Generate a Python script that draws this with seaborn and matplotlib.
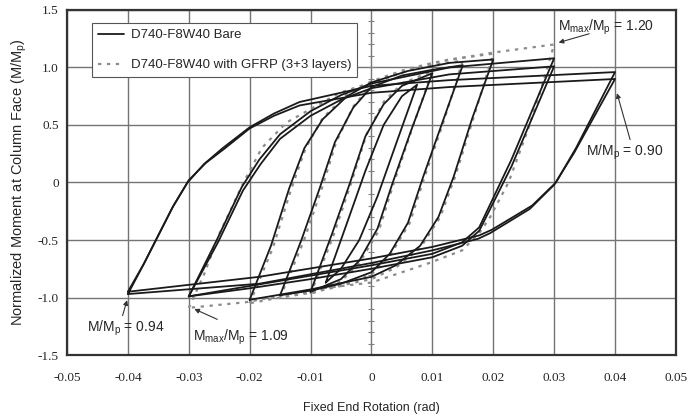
import matplotlib
matplotlib.use("Agg")
import matplotlib.pyplot as plt
import seaborn as sns
import pandas as pd
import numpy as np
from matplotlib.lines import Line2D

# Bare specimen loops: start at the negative peak, up to the positive peak, back down
bare_0075_x = [-0.0075, -0.004, -0.001, 0.002, 0.005, 0.0075, 0.004, 0.001, -0.002, -0.005, -0.0075]
bare_0075_y = [-0.87, -0.35, 0.10, 0.50, 0.75, 0.85, 0.33, -0.12, -0.50, -0.75, -0.87]

bare_010_x = [-0.01, -0.0065, -0.0035, -0.001, 0.002, 0.005, 0.01, 0.0065, 0.0035, 0.001, -0.002, -0.005, -0.01]
bare_010_y = [-0.95, -0.45, 0.0, 0.40, 0.68, 0.84, 0.95, 0.45, 0.0, -0.40, -0.68, -0.84, -0.95]

bare_015_x = [-0.015, -0.0115, -0.0085, -0.006, -0.003, 0.0, 0.005, 0.01, 0.015,
              0.0115, 0.0085, 0.006, 0.003, 0.0, -0.005, -0.01, -0.015]
bare_015_y = [-0.98, -0.50, -0.05, 0.35, 0.65, 0.83, 0.93, 0.98, 1.02,
              0.50, 0.05, -0.35, -0.62, -0.78, -0.88, -0.94, -0.98]

bare_020_x = [-0.02, -0.0165, -0.0135, -0.011, -0.008, -0.004, 0.0, 0.006, 0.0128, 0.02,
              0.0165, 0.0135, 0.011, 0.008, 0.004, 0.0, -0.01, -0.02]
bare_020_y = [-1.02, -0.55, -0.05, 0.30, 0.55, 0.75, 0.87, 0.97, 1.04, 1.07,
              0.55, 0.05, -0.30, -0.55, -0.72, -0.82, -0.93, -1.02]

bare_030a_x = [-0.03, -0.0254, -0.0213, -0.0184, -0.015, -0.010, -0.005, 0.0, 0.0128, 0.03,
               0.023, 0.0177, 0.0149, 0.01, 0.0, -0.01, -0.02, -0.03]
bare_030a_y = [-0.99, -0.50, -0.04, 0.20, 0.42, 0.62, 0.76, 0.86, 1.00, 1.08,
               0.20, -0.39, -0.52, -0.62, -0.72, -0.81, -0.90, -0.99]
bare_030b_x = [-0.03, -0.0252, -0.0211, -0.0182, -0.015, -0.010, -0.005, 0.0, 0.0128, 0.03,
               0.023, 0.0177, 0.0149, 0.01, 0.0, -0.01, -0.02, -0.03]
bare_030b_y = [-0.99, -0.52, -0.07, 0.16, 0.38, 0.58, 0.72, 0.82, 0.94, 1.01,
               0.14, -0.42, -0.55, -0.65, -0.75, -0.84, -0.92, -0.99]

bare_040a_x = [-0.04, -0.0375, -0.0352, -0.0327, -0.0302, -0.0275, -0.0244, -0.020, -0.016, -0.0118,
               0.0, 0.0128, 0.04,
               0.0336, 0.0303, 0.0264, 0.0198, 0.0177, 0.01, 0.0, -0.0184, -0.04]
bare_040a_y = [-0.97, -0.72, -0.48, -0.22, 0.0, 0.16, 0.30, 0.48, 0.60, 0.70,
               0.84, 0.89, 0.96,
               0.30, 0.0, -0.20, -0.41, -0.46, -0.56, -0.66, -0.82, -0.95]
bare_040b_x = [-0.04, -0.0373, -0.0350, -0.0325, -0.0300, -0.0272, -0.0240, -0.020, -0.016, -0.0118,
               0.0, 0.0128, 0.04,
               0.0333, 0.0300, 0.0260, 0.0195, 0.0175, 0.01, 0.0, -0.0184, -0.04]
bare_040b_y = [-0.95, -0.70, -0.46, -0.20, 0.02, 0.17, 0.30, 0.47, 0.58, 0.67,
               0.78, 0.83, 0.90,
               0.26, -0.02, -0.23, -0.44, -0.49, -0.59, -0.70, -0.88, -0.97]

# GFRP-reinforced specimen loops
gfrp_010_x = [-0.01, -0.0063, -0.0033, -0.0008, 0.002, 0.005, 0.01, 0.0067, 0.0037, 0.0012, -0.002, -0.005, -0.01]
gfrp_010_y = [-0.97, -0.47, 0.0, 0.42, 0.70, 0.86, 0.97, 0.47, 0.0, -0.42, -0.70, -0.86, -0.97]

gfrp_015_x = [-0.015, -0.0112, -0.0082, -0.0058, -0.003, 0.0, 0.005, 0.01, 0.015,
              0.0118, 0.0088, 0.0063, 0.003, 0.0, -0.005, -0.01, -0.015]
gfrp_015_y = [-1.00, -0.52, -0.06, 0.35, 0.66, 0.85, 0.96, 1.02, 1.06,
              0.52, 0.06, -0.35, -0.64, -0.80, -0.90, -0.96, -1.00]

gfrp_020_x = [-0.02, -0.0162, -0.0132, -0.0108, -0.008, -0.004, 0.0, 0.006, 0.0128, 0.02,
              0.0168, 0.0138, 0.0113, 0.008, 0.004, 0.0, -0.01, -0.02]
gfrp_020_y = [-1.05, -0.57, -0.06, 0.30, 0.56, 0.77, 0.88, 0.99, 1.07, 1.12,
              0.57, 0.06, -0.30, -0.57, -0.74, -0.84, -0.95, -1.05]

gfrp_030_x = [-0.03, -0.0275, -0.025, -0.021, -0.018, -0.014, -0.0052, 0.0, 0.01, 0.02, 0.03,
              0.0278, 0.0255, 0.0225, 0.0195, 0.0177, 0.0149, 0.0095, 0.0, -0.0097, -0.0205, -0.03]
gfrp_030_y = [-1.09, -0.80, -0.45, 0.0, 0.30, 0.52, 0.78, 0.87, 1.04, 1.13, 1.20,
              0.80, 0.43, 0.0, -0.30, -0.44, -0.59, -0.70, -0.87, -0.93, -1.04, -1.09]

bare_loops = [(bare_0075_x, bare_0075_y), (bare_010_x, bare_010_y), (bare_015_x, bare_015_y),
              (bare_020_x, bare_020_y), (bare_030a_x, bare_030a_y), (bare_030b_x, bare_030b_y),
              (bare_040a_x, bare_040a_y), (bare_040b_x, bare_040b_y)]
gfrp_loops = [(gfrp_010_x, gfrp_010_y), (gfrp_015_x, gfrp_015_y),
              (gfrp_020_x, gfrp_020_y), (gfrp_030_x, gfrp_030_y)]

x_ticks = [-0.05, -0.04, -0.03, -0.02, -0.01, 0, 0.01, 0.02, 0.03, 0.04, 0.05]
x_labels = ["-0.05", "-0.04", "-0.03", "-0.02", "-0.01", "0", "0.01", "0.02", "0.03", "0.04", "0.05"]
y_ticks = [-1.5, -1.0, -0.5, 0, 0.5, 1.0, 1.5]
y_labels = ["-1.5", "-1.0", "-0.5", "0", "0.5", "1.0", "1.5"]

sns.set_style("white")
plt.rcParams["font.family"] = ["Liberation Sans", "DejaVu Sans"]
plt.rcParams["axes.unicode_minus"] = False

fig = plt.figure(figsize=(6.89, 4.16), dpi=100)
ax = fig.add_axes([0.0972, 0.1466, 0.8838, 0.8294])

# grid
for xv in x_ticks:
    ax.axvline(xv, color="#747474", lw=1.0, zorder=0)
for yv in y_ticks:
    ax.axhline(yv, color="#747474", lw=1.0, zorder=0)
# small ticks on the zero axis
minor = np.arange(-1.5, 1.51, 0.1)
ax.plot(np.zeros_like(minor), minor, ls="none", marker="_", ms=4, color="#808080", mew=0.8, zorder=0)

for lx, ly in bare_loops:
    df = pd.DataFrame({"x": lx, "y": ly})
    sns.lineplot(data=df, x="x", y="y", sort=False, estimator=None, ax=ax,
                 color="#1a1a1a", lw=1.3, zorder=3)
for lx, ly in gfrp_loops:
    df = pd.DataFrame({"x": lx, "y": ly})
    sns.lineplot(data=df, x="x", y="y", sort=False, estimator=None, ax=ax,
                 color="#8c8c8c", lw=1.6, zorder=2, dashes=False, linestyle=(0, (1.5, 2.5)))

ax.set_xlim(-0.05, 0.05)
ax.set_ylim(-1.5, 1.5)
ax.set_xticks(x_ticks)
ax.set_xticklabels(x_labels, fontfamily="Liberation Serif", fontsize=9.5)
ax.set_yticks(y_ticks)
ax.set_yticklabels(y_labels, fontfamily="Liberation Serif", fontsize=9.5)
ax.tick_params(axis="x", direction="out", length=4, width=1, color="#333333", pad=8)
ax.tick_params(axis="y", direction="out", length=4, width=1, color="#333333", pad=2)
ax.set_xlabel("Fixed End Rotation (rad)", fontsize=9, labelpad=13)
ax.set_ylabel(r"Normalized Moment at Column Face (M/M$_\mathregular{p}$)", fontsize=10.5, labelpad=6)
for s in ax.spines.values():
    s.set_color("#333333")
    s.set_linewidth(1.6)
    s.set_visible(True)

# annotations
arrow = dict(arrowstyle="-|>", color="#333333", lw=0.8, mutation_scale=7)
ax.annotate("", xy=(0.0303, 1.21), xytext=(0.0362, 1.30), arrowprops=arrow)
ax.text(0.0307, 1.35, r"M$_\mathregular{max}$/M$_\mathregular{p}$ = 1.20", fontsize=10, va="center")
ax.annotate("", xy=(0.0402, 0.80), xytext=(0.0426, 0.35), arrowprops=arrow)
ax.text(0.0352, 0.26, r"M/M$_\mathregular{p}$ = 0.90", fontsize=10, va="center")
ax.annotate("", xy=(-0.0400, -1.00), xytext=(-0.0410, -1.18), arrowprops=arrow)
ax.text(-0.0467, -1.27, r"M/M$_\mathregular{p}$ = 0.94", fontsize=10, va="center")
ax.annotate("", xy=(-0.0295, -1.09), xytext=(-0.0249, -1.20), arrowprops=arrow)
ax.text(-0.0293, -1.35, r"M$_\mathregular{max}$/M$_\mathregular{p}$ = 1.09", fontsize=10, va="center")

handles = [Line2D([], [], color="#1a1a1a", lw=1.3),
           Line2D([], [], color="#8c8c8c", lw=1.6, linestyle=(0, (1.5, 2.5)))]
leg = ax.legend(handles, ["D740-F8W40 Bare", "D740-F8W40 with GFRP (3+3 layers)"],
                loc="upper left", bbox_to_anchor=(0.041, 0.962), fontsize=9.5,
                frameon=True, fancybox=False, edgecolor="#555555", framealpha=1,
                handlelength=2.0, labelspacing=1.35, borderpad=0.45, handletextpad=0.5,
                borderaxespad=0)
leg.get_frame().set_linewidth(0.8)

fig.savefig("out.png", dpi=100)
